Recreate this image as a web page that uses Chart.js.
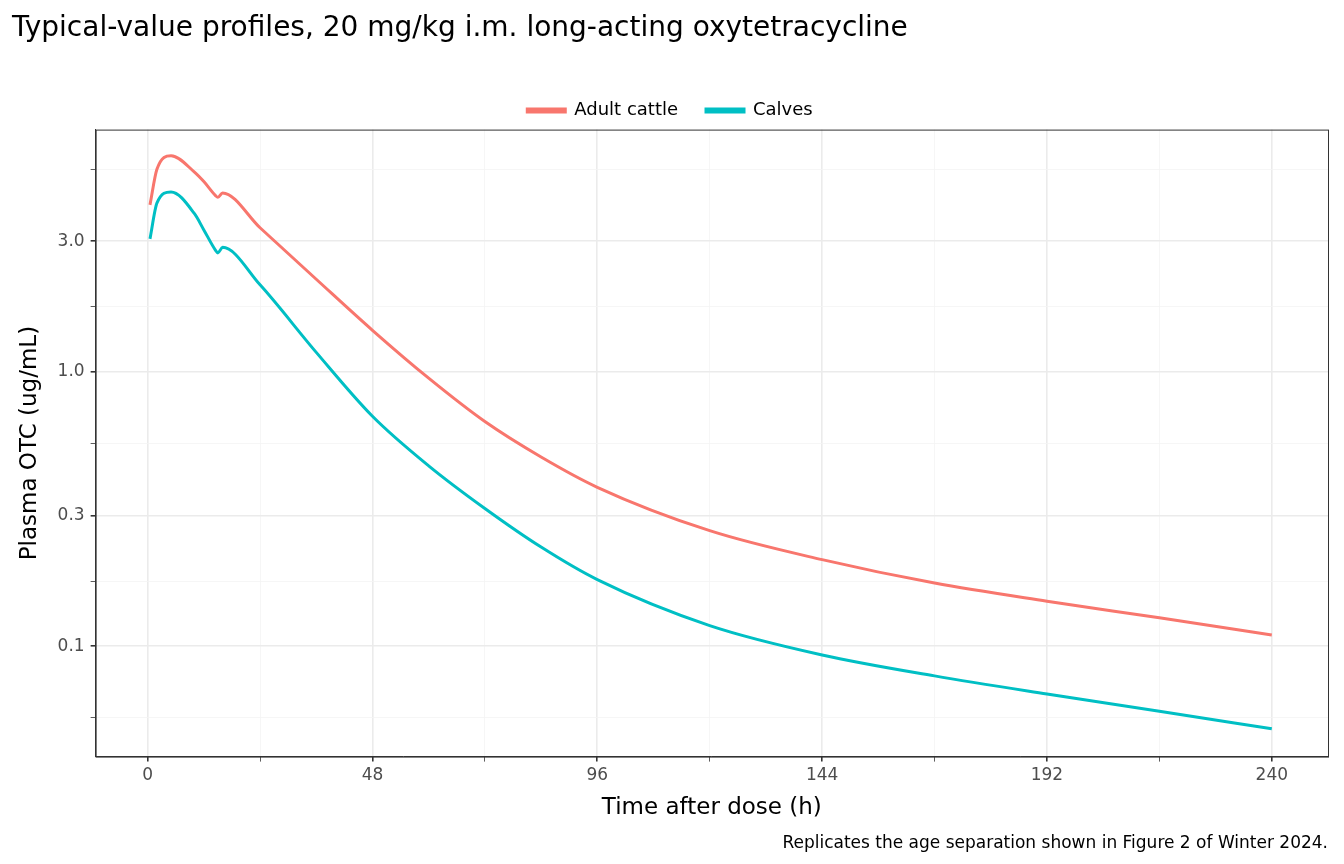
<!DOCTYPE html>
<html>
<head>
<meta charset="utf-8">
<script src="https://cdn.jsdelivr.net/npm/chart.js@4.4.1/dist/chart.umd.min.js"></script>
<style>
  html, body { margin: 0; padding: 0; background: #fff; }
  #wrap { width: 1344px; height: 864px; }
</style>
</head>
<body>
<div id="wrap"><canvas id="c" width="1344" height="864"></canvas></div>
<script>
// values
const hours  = [0.5, 2, 5, 10, 12, 14.5, 15, 16, 24, 36, 48, 60, 72, 84, 96, 120, 144, 168, 192, 216, 240];
const adult  = [4.07, 5.5, 6.15, 5.36, 4.95, 4.4, 4.34, 4.5, 3.36, 2.18, 1.42, 0.95, 0.66, 0.49, 0.38, 0.264, 0.207, 0.17, 0.146, 0.127, 0.11];
const calves = [3.06, 4.14, 4.54, 3.78, 3.3, 2.78, 2.72, 2.85, 2.08, 1.18, 0.69, 0.455, 0.318, 0.23, 0.175, 0.119, 0.093, 0.078, 0.067, 0.058, 0.05];
const yBreaks = [0.1, 0.3, 1, 3];
const yMinor = [0.055, 0.173, 0.548, 1.73, 5.48];
const xBreaks = [0, 48, 96, 144, 192, 240];

Chart.defaults.font.family = '"DejaVu Sans", sans-serif';
Chart.defaults.color = '#4d4d4d';

const toPts = v => hours.map((h, i) => ({x: h, y: v[i]}));

const panelBorder = {
  id: 'panelBorder',
  afterDraw(chart) {
    const a = chart.chartArea, ctx = chart.ctx;
    ctx.save();
    ctx.strokeStyle = '#333333';
    ctx.lineWidth = 1;
    ctx.strokeRect(a.left + 0.5, a.top + 0.5, a.right - a.left, a.bottom - a.top);
    ctx.restore();
  }
};

new Chart(document.getElementById('c'), {
  type: 'line',
  data: {
    datasets: [
      {label: 'Adult cattle', data: toPts(adult), borderColor: '#F8766D', backgroundColor: '#F8766D'},
      {label: 'Calves', data: toPts(calves), borderColor: '#00BFC4', backgroundColor: '#00BFC4'}
    ]
  },
  options: {
    responsive: false,
    animation: false,
    layout: {padding: {left: 12, right: 16, top: 12, bottom: 10}},
    elements: {
      point: {radius: 0},
      line: {borderWidth: 3, cubicInterpolationMode: 'monotone'}
    },
    plugins: {
      title: {
        display: true, align: 'start', color: '#000',
        text: 'Typical-value profiles, 20 mg/kg i.m. long-acting oxytetracycline',
        font: {size: 28, weight: 'normal'}, padding: {top: 0, bottom: 28}
      },
      subtitle: {
        display: true, position: 'bottom', align: 'end', color: '#000',
        text: 'Replicates the age separation shown in Figure 2 of Winter 2024.',
        font: {size: 17}, padding: {top: 8}
      },
      legend: {
        labels: {
          boxWidth: 38, boxHeight: 3, color: '#000', font: {size: 18}, padding: 28
        }
      },
      tooltip: {enabled: false}
    },
    scales: {
      x: {
        type: 'linear', min: -11.1, max: 252,
        afterBuildTicks: ax => {
          ax.ticks = [24, 72, 120, 168, 216].concat(xBreaks).sort((a, b) => a - b).map(v => ({value: v}));
        },
        ticks: {
          font: {size: 17}, color: '#4d4d4d', padding: 4,
          callback: v => xBreaks.includes(v) ? String(v) : ''
        },
        grid: {
          color: c => xBreaks.includes(c.tick && c.tick.value) ? '#ebebeb' : '#f4f4f4',
          lineWidth: c => xBreaks.includes(c.tick && c.tick.value) ? 1.6 : 0.8,
          tickColor: '#333', tickLength: 5
        },
        border: {color: '#333'},
        title: {display: true, text: 'Time after dose (h)', color: '#000', font: {size: 23}, padding: {top: 4}}
      },
      y: {
        type: 'logarithmic', min: 0.0396, max: 7.66,
        afterBuildTicks: ax => {
          ax.ticks = yMinor.concat(yBreaks).sort((a, b) => a - b).map(v => ({value: v}));
        },
        ticks: {
          font: {size: 17}, color: '#4d4d4d', padding: 6,
          callback: v => yBreaks.includes(v) ? v.toFixed(1) : ''
        },
        grid: {
          color: c => yBreaks.includes(c.tick && c.tick.value) ? '#ebebeb' : '#f4f4f4',
          lineWidth: c => yBreaks.includes(c.tick && c.tick.value) ? 1.6 : 0.8,
          tickColor: '#333', tickLength: 5
        },
        border: {color: '#333'},
        title: {display: true, text: 'Plasma OTC (ug/mL)', color: '#000', font: {size: 23}, padding: {bottom: 8}}
      }
    }
  },
  plugins: [panelBorder]
});
</script>
</body>
</html>
